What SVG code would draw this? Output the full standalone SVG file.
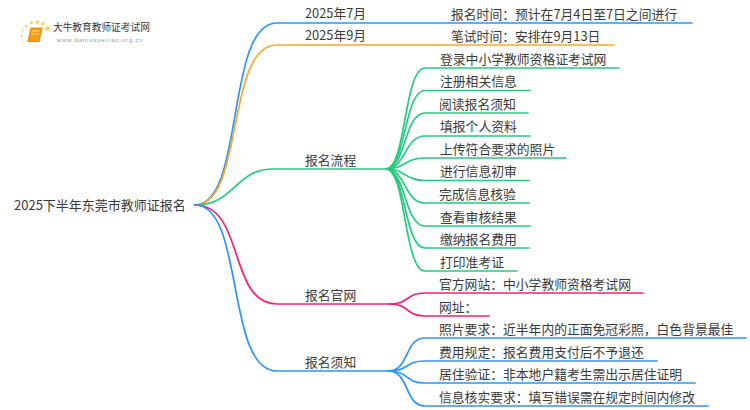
<svg xmlns="http://www.w3.org/2000/svg" width="750" height="410" viewBox="0 0 750 410">
<style>
text{font-family:"Noto Sans CJK SC","Noto Sans",sans-serif;font-size:12.8px;fill:#3a3a3a}
path{fill:none;stroke-width:1.7;stroke-linecap:round}
.b{stroke:#2b95ff}.o{stroke:#f7a92b}.g{stroke:#25cb80}.p{stroke:#f5207a}
</style>
<rect width="750" height="410" fill="#fff"/>
<g id="logo">
<g fill="#fcd063"><circle cx="47.500" cy="28.500" r="2.200"/><circle cx="43" cy="24" r="1.800"/><circle cx="37.500" cy="22" r="1.800"/><circle cx="31.500" cy="22.500" r="1.600"/><circle cx="26" cy="26" r="1.300"/><circle cx="22.500" cy="30.500" r="1.100"/><circle cx="22" cy="36" r="1"/><circle cx="23.500" cy="42.500" r="0.800"/></g>
<path d="M31 28H42L39 41.500H28Z" style="fill:#f69c18;stroke:#f58a10;stroke-width:1.200"/>
<path d="M32.500 31H39M32 34H38.500" style="stroke:#ffe2a8;stroke-width:1"/>
<text x="53" y="31" style="font-size:9.700px">大牛教育教师证考试网</text>
<text x="57" y="41.500" style="font-size:6px;fill:#999;letter-spacing:.8px;font-family:'Liberation Sans',sans-serif">www.daniuxuexiao.org.cn</text>
</g>
<g id="connectors">
<path class="b" d="M195 205C245 205 225 23 277 23H692"/>
<path class="o" d="M195 205C245 205 225 45 277 45H614"/>
<path class="g" d="M195 205C235 205 235 169 273 169H386"/>
<path class="p" d="M195 205C245 205 228 304 277 304H390"/>
<path class="b" d="M195 205C245 205 225 371 277 371H388"/>
<path class="g" d="M386 169C406 169 404 68 425 68H619"/>
<path class="g" d="M386 169C406 169 404 90.500 425 90.500H530"/>
<path class="g" d="M386 169C406 169 404 113 425 113H528"/>
<path class="g" d="M386 169C406 169 404 136 425 136H530"/>
<path class="g" d="M386 169C406 169 404 158 425 158H566"/>
<path class="g" d="M386 169C406 169 404 180.500 425 180.500H529"/>
<path class="g" d="M386 169C406 169 404 203 425 203H529"/>
<path class="g" d="M386 169C406 169 404 226 425 226H530"/>
<path class="g" d="M386 169C406 169 404 248 425 248H529"/>
<path class="g" d="M386 169C406 169 404 271 425 271H517"/>
<path class="p" d="M390 304C410 304 405 293 425 293H643"/>
<path class="p" d="M390 304C410 304 405 316 425 316H489"/>
<path class="b" d="M388 371C410 371 404 338 425 338H746"/>
<path class="b" d="M388 371C410 371 404 361 425 361H657"/>
<path class="b" d="M388 371C410 371 404 383 425 383H695"/>
<path class="b" d="M388 371C410 371 404 406 425 406H708"/>
</g>
<g id="root"><text x="14" y="210" style="font-size:13px">2025下半年东莞市教师证报名</text></g>
<g id="n1"><text x="305" y="18">2025年7月</text><text x="451" y="19">报名时间：预计在7月4日至7日之间进行</text></g>
<g id="n2"><text x="305" y="40">2025年9月</text><text x="451" y="41">笔试时间：安排在9月13日</text></g>
<g id="n3"><text x="305" y="165">报名流程</text>
<text x="440" y="64">登录中小学教师资格证考试网</text>
<text x="440" y="86">注册相关信息</text>
<text x="439" y="109">阅读报名须知</text>
<text x="440" y="131">填报个人资料</text>
<text x="440" y="154">上传符合要求的照片</text>
<text x="440" y="176">进行信息初审</text>
<text x="439" y="199">完成信息核验</text>
<text x="440" y="222">查看审核结果</text>
<text x="440" y="244">缴纳报名费用</text>
<text x="440" y="267">打印准考证</text></g>
<g id="n4"><text x="305" y="300">报名官网</text>
<text x="439" y="289">官方网站：中小学教师资格考试网</text>
<text x="439" y="312">网址：</text></g>
<g id="n5"><text x="305" y="367">报名须知</text>
<text x="439" y="334">照片要求：近半年内的正面免冠彩照，白色背景最佳</text>
<text x="439" y="357">费用规定：报名费用支付后不予退还</text>
<text x="439" y="379">居住验证：非本地户籍考生需出示居住证明</text>
<text x="439" y="402">信息核实要求：填写错误需在规定时间内修改</text></g>
</svg>
